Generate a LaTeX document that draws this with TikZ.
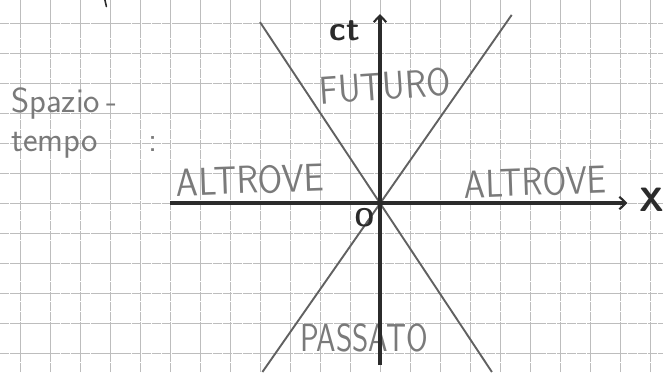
\documentclass[tikz,border=0pt]{standalone}
\usepackage{tikz}
\usetikzlibrary{positioning, arrows.meta}
\definecolor{pencil}{HTML}{7A7A7A}
\definecolor{pen}{HTML}{2B2B2B}
\definecolor{squares}{HTML}{BDBDBD}
\newcommand{\hand}[2][0.85]{\scalebox{#1}[1]{#2}}
\tikzset{
  papergrid/.style={draw=squares, line width=0.6pt, dash pattern=on 9pt off 0.6pt},
  asse/.style={line width=3pt, draw=pen, -{Straight Barb[length=2.2mm, width=4.2mm, line width=2pt]}},
  cono/.style={line width=1.8pt, draw=black!62},
  scritta/.style={text=pencil, font=\fontsize{37}{40}\selectfont\sffamily, inner sep=0pt},
  nota/.style={text=pencil, font=\fontsize{33}{37}\selectfont\sffamily, inner sep=0pt, align=left},
  penna/.style={text=pen, font=\fontsize{32}{34}\selectfont\sffamily\bfseries, inner sep=0pt},
}

\begin{document}
\begin{tikzpicture}
  \useasboundingbox (-12.667,-5.633) rectangle (9.433,6.767);
  \fill[white] (-12.667,-5.633) rectangle (9.433,6.767);
  % squared paper
  \draw[papergrid, step=1] (-12.667,-5.633) grid (9.433,6.767);
  \draw[pen, line width=1.5pt, line cap=round] (-9.17,6.77) -- (-9.12,6.55);

  % light cone
  \coordinate (O) at (0,0);
  \coordinate (c1a) at (-4.0,6.03);
  \coordinate (c1b) at (3.73,-5.633);
  \coordinate (c2a) at (4.39,6.27);
  \coordinate (c2b) at (-3.92,-5.633);
  \draw[cono] (c1a) -- (c1b);
  \draw[cono] (c2a) -- (c2b);

  % regions
  \node[scritta, rotate=4] (fut) at (0.17,3.9) {\hand[0.89]{FUTURO}};
  \node[scritta, rotate=2] (altS) at (-4.33,0.77) {\hand[0.91]{ALTROVE}};
  \node[scritta, rotate=2] (altD) at (5.17,0.7) {\hand[0.875]{ALTROVE}};
  \node[scritta] (pas) at (-0.53,-4.5) {\hand[0.8]{PASSATO}};
  \node[nota, anchor=north west] (st) at (-12.3,3.85)
        {Spazio\hspace{2mm}-\\tempo\hspace{1.7cm}:};

  % axes
  \coordinate (xl) at (-7.0,0);
  \coordinate (xr) at (8.25,0);
  \coordinate (tb) at (0,-5.4);
  \coordinate (tt) at (0,6.3);
  \draw[asse] (xl) -- (xr);
  \draw[asse] (tb) -- (tt);
  \node[penna] (ct) at (-1.17,5.73) {ct};
  \node[penna] (X) at (9.07,0.1) {X};
  \node[penna, font=\fontsize{24}{26}\selectfont\sffamily\bfseries] (orig) at (-0.52,-0.5) {O};
\end{tikzpicture}
\end{document}
